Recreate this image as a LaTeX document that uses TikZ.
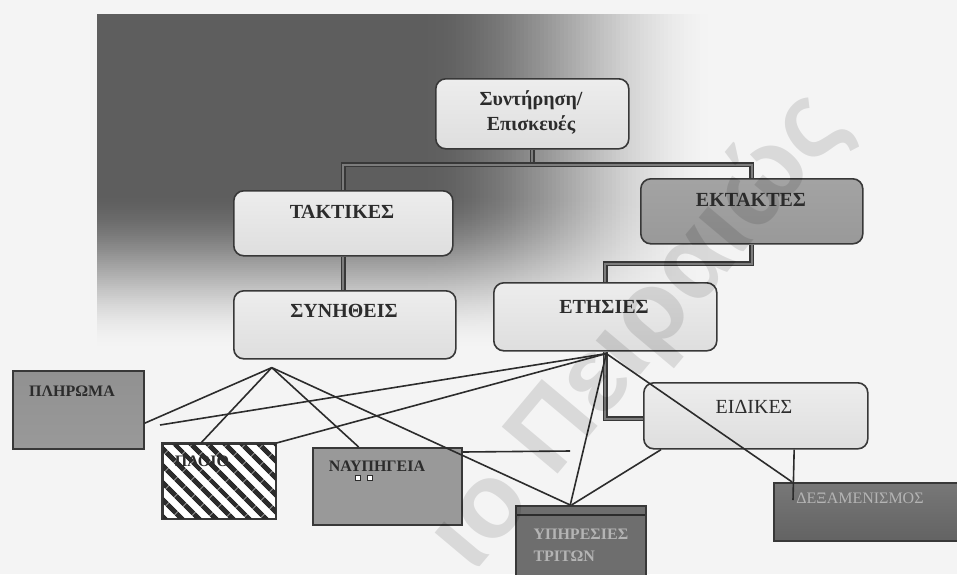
\documentclass[tikz,border=0pt]{standalone}
\usepackage{fontspec}
\setmainfont{Liberation Serif}
\newfontfamily\wmfont{Liberation Sans}
\usetikzlibrary{calc,patterns.meta}

\definecolor{pagebg}{HTML}{F4F4F4}
\definecolor{pdark}{HTML}{5E5E5E}
\definecolor{ink}{HTML}{2C2C2C}
\definecolor{rim}{HTML}{383838}
\definecolor{softtop}{HTML}{EDEDED}
\definecolor{softbot}{HTML}{DEDEDE}
\definecolor{midgray}{HTML}{999999}
\definecolor{deepgray}{HTML}{6E6E6E}
\definecolor{paleink}{HTML}{B4B4B4}
\definecolor{core}{HTML}{7C7C7C}

\begin{document}
\begin{tikzpicture}[x=1pt,y=-1pt,
  softbox/.style={draw=rim, line width=1.6pt, rounded corners=10pt,
    top color=softtop, bottom color=softbot, inner sep=0pt, anchor=north west},
  plainbox/.style={draw=rim, line width=1.5pt, inner sep=0pt, anchor=north west},
  head/.style={font=\fontsize{20}{25}\selectfont\bfseries, text=ink, align=center},
  lighthead/.style={font=\fontsize{20}{25}\selectfont, text=ink},
  small/.style={font=\fontsize{16}{22}\selectfont\bfseries, text=ink},
  smallpale/.style={font=\fontsize{16}{22}\selectfont\bfseries, text=paleink, align=left},
  conn/.style={draw=rim, line width=1.6pt, double=core, double distance=1.8pt},
  wire/.style={draw=ink, line width=1.6pt},
  dot/.style={draw=ink, fill=white, line width=0.8pt, minimum size=5pt, inner sep=0pt}
]
\useasboundingbox (0,0) rectangle (957,574);
\fill[pagebg] (0,0) rectangle (957,574);

% background panel: dark top-left corner fading to the right and downwards
\fill[pdark] (97,14) rectangle (420,574);
\foreach \i in {0,...,74} {
  \pgfmathsetmacro\t{(\i+0.5)/75}
  \pgfmathsetmacro\s{100*(1-\t*\t*(3-2*\t))}
  \fill[pdark!\s!pagebg] ({420+4*\i},14) rectangle ({424+4*\i},574);
}
\foreach \i in {0,...,79} {
  \pgfmathsetmacro\t{(\i+0.5)/80}
  \pgfmathsetmacro\o{\t*\t*(3-2*\t)}
  \fill[pagebg, fill opacity=\o] (97,{190+2*\i}) rectangle (957,{192+2*\i});
}
\fill[pagebg] (97,350) rectangle (957,574);

% upper hierarchy
\node[softbox, minimum width=193pt, minimum height=70pt] (root) at (435,78) {};
\node[head] (troot) at (531,112) {Συντήρηση/\\Επισκευές};

\node[softbox, minimum width=219pt, minimum height=65pt] (takt) at (233,190) {};
\node[head] (ttakt) at (342,212) {ΤΑΚΤΙΚΕΣ};

\node[softbox, minimum width=222pt, minimum height=65pt, top color=midgray!90, bottom color=midgray] (ekt) at (640,178) {};
\node[head] (tekt) at (751,200) {ΕΚΤΑΚΤΕΣ};

\node[softbox, minimum width=222pt, minimum height=68pt] (syn) at (233,290) {};
\node[head] (tsyn) at (344,311) {ΣΥΝΗΘΕΙΣ};

\node[softbox, minimum width=223pt, minimum height=68pt] (eth) at (493,282) {};
\node[head] (teth) at (604,307) {ΕΤΗΣΙΕΣ};

\node[softbox, minimum width=224pt, minimum height=66pt] (eid) at (643,382) {};
\node[lighthead] (teid) at (754,407) {ΕΙΔΙΚΕΣ};

% lower boxes
\node[plainbox, minimum width=131pt, minimum height=78pt, top color=gray!85!black!75, bottom color=midgray] (plir) at (12,370) {};
\node[small] (tplir) at (72,391) {ΠΛΗΡΩΜΑ};

\node[plainbox, minimum width=113pt, minimum height=75pt, fill=white] (ploio) at (162,443) {};
\fill[pattern={Lines[angle=-45, distance=13pt, line width=5.5pt]}, pattern color=ink]
  (ploio.north west) rectangle (ploio.south east);
\draw[rim, line width=1.5pt] (ploio.north west) rectangle (ploio.south east);
\node[small] (tploio) at (202,461) {ΠΛΟΙΟ};

\node[plainbox, minimum width=149pt, minimum height=77pt, fill=midgray] (naup) at (312,447) {};
\node[small] (tnaup) at (377,466) {ΝΑΥΠΗΓΕΙΑ};
\node[dot] (d1) at (358,478) {};
\node[dot] (d2) at (370,478) {};

\node[plainbox, minimum width=130pt, minimum height=80pt, fill=deepgray] (yphr) at (515,505) {};
\draw[ink, line width=1.2pt] ($(yphr.north west)+(2,10)$) -- ($(yphr.north east)+(-2,10)$);
\node[smallpale, anchor=west] (typhr) at (530,545) {ΥΠΗΡΕΣΙΕΣ\\ΤΡΙΤΩΝ};

\node[plainbox, minimum width=190pt, minimum height=58pt, top color=gray!75!black!85, bottom color=deepgray!90!black] (dex) at (773,482) {};
\node[smallpale, font=\fontsize{16}{22}\selectfont] (tdex) at (860,498) {ΔΕΞΑΜΕΝΙΣΜΟΣ};

% tree connectors
\coordinate (rj) at ($(root.south)+(0,15)$);
\draw[conn] (root.south) -- (rj);
\draw[conn] (takt.north) |- (rj) -| (ekt.north);
\draw[conn] (takt.south) -- (takt.south |- syn.north);
\draw[conn] (ekt.south) -- ++(0,19) -| (eth.north);
\draw[conn] (eth.south) |- ($(eid.west)+(0,3)$);

% thin links
\coordinate (hubA) at ($(syn.south)+(-73,8)$);
\coordinate (hubB) at ($(eth.south)+(1,2)$);
\coordinate (plirend) at (160,425);
\coordinate (naupend) at (570,451);
\coordinate (dexend) at (793,500);

\draw[wire] (hubA) -- ($(plir.north east)!0.67!(plir.south east)$);
\draw[wire] (hubA) -- ($(ploio.north west)!0.34!(ploio.north east)$);
\draw[wire] (hubA) -- ($(naup.north west)!0.31!(naup.north east)$);
\draw[wire] (hubA) -- ($(yphr.north west)!0.42!(yphr.north east)$);

\draw[wire] (hubB) -- (plirend);
\draw[wire] (hubB) -- (ploio.north east);
\draw[wire] (hubB) -- ($(yphr.north west)!0.42!(yphr.north east)$);
\draw[wire] (hubB) -- ($(dex.north west)!0.1!(dex.north east)$);

\draw[wire] ($(eid.south west)!0.08!(eid.south east)$) -- ($(yphr.north west)!0.43!(yphr.north east)$);
\draw[wire] ($(eid.south west)!0.67!(eid.south east)$) -- (dexend);
\draw[wire] ($(naup.north east)+(0,5)$) -- (naupend);

% archive mark across the sheet
\begin{scope}
  \clip (0,0) rectangle (957,574);
  \node[font=\wmfont\bfseries\fontsize{106}{106}\selectfont, text=black, text opacity=0.11,
        rotate=50, anchor=base east, inner sep=0pt] (mark) at (850,126) {ιο Πειραιώς};
\end{scope}
\end{tikzpicture}
\end{document}
